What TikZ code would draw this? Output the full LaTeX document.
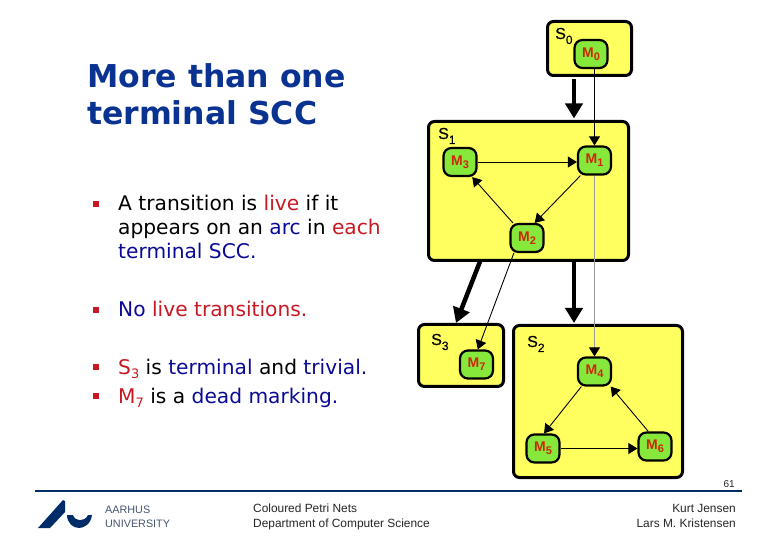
\documentclass[tikz,border=0pt]{standalone}
\usepackage{fontspec}
\setmainfont{DejaVu Sans}
\newfontfamily\lib{Liberation Sans}
\newfontfamily\libheavy[FakeBold=0.4]{Liberation Sans}
\usetikzlibrary{arrows.meta,calc}
\definecolor{boxyellow}{RGB}{255,255,95}
\definecolor{markgreen}{RGB}{135,232,60}
\definecolor{markred}{RGB}{205,40,10}
\definecolor{slideblue}{RGB}{10,10,150}
\definecolor{titleblue}{RGB}{10,50,145}
\definecolor{slidered}{RGB}{200,25,35}
\definecolor{aunavy}{RGB}{0,45,105}
\definecolor{augray}{RGB}{70,85,110}
\newcommand{\hl}[1]{\textcolor{slidered}{#1}}
\newcommand{\bl}[1]{\textcolor{slideblue}{#1}}
\newcommand{\Mk}[1]{{\lib\bfseries M\raisebox{-3pt}{\fontsize{11}{11}\selectfont #1}}}
\newcommand{\Sl}[1]{{\libheavy S\raisebox{-5pt}{\fontsize{12}{12}\selectfont #1}}}
\tikzset{
  x=1pt,y=-1pt,
  sccbox/.style={draw=black,line width=3pt,fill=boxyellow,rounded corners=6pt,inner sep=0,outer sep=0,anchor=north west},
  marking/.style={draw=black,line width=2.2pt,fill=markgreen,rounded corners=8pt,minimum width=33pt,minimum height=28pt,inner sep=0,text=markred,font=\fontsize{14}{14}\selectfont},
  sccarrow/.style={line width=4.5pt,-{Triangle[length=15pt,width=17pt]}},
  markarrow/.style={line width=.9pt,-{Triangle[length=9pt,width=11pt]}},
  grayarrow/.style={draw=black!40,line width=.9pt,-{Triangle[length=9pt,width=11pt,color=black]}},
  slabel/.style={inner sep=0,anchor=base west,font=\fontsize{16}{16}\selectfont},
  bodytext/.style={inner sep=0,anchor=base west,font=\fontsize{20.2}{20.2}\selectfont},
  titletext/.style={inner sep=0,anchor=base west,text=titleblue,font=\fontsize{31.5}{31.5}\selectfont\bfseries},
  bullet/.style={fill=slidered,minimum size=5.5pt,inner sep=0},
  foot/.style={inner sep=0,font=\fontsize{11.9}{13}\selectfont\lib,text=black!85},
  aulabel/.style={inner sep=0,anchor=base west,text=augray,font=\fontsize{10.8}{12}\selectfont\lib},
}
\begin{document}
\begin{tikzpicture}
\useasboundingbox (0,0) rectangle (780,540);
\fill[white] (0,0) rectangle (780,540);
% SCC boxes
\node[sccbox,minimum width=84pt,minimum height=54pt] (S0) at (547.5,21.5) {};
\node[sccbox,minimum width=200pt,minimum height=139pt] (S1) at (428.5,121.5) {};
\node[sccbox,minimum width=85pt,minimum height=62pt] (S3) at (418.5,324.5) {};
\node[sccbox,minimum width=169pt,minimum height=152pt] (S2) at (513.5,325.5) {};
% SCC labels
\node[slabel] (L0) at (555,39) {\Sl{0}};
\node[slabel] (L1) at (438,139) {\Sl{1}};
\node[slabel] (L3) at (431,345) {\Sl{3}};
\node[slabel] (L2) at (527,347) {\Sl{2}};
% markings
\node[marking] (M0) at (591,54) {\Mk{0}};
\node[marking] (M1) at (594.5,160.5) {\Mk{1}};
\node[marking] (M2) at (527,238) {\Mk{2}};
\node[marking] (M3) at (460,162) {\Mk{3}};
\node[marking] (M4) at (594.5,371.5) {\Mk{4}};
\node[marking] (M5) at (543,448.5) {\Mk{5}};
\node[marking] (M6) at (655,446.5) {\Mk{6}};
\node[marking] (M7) at (476.5,364.5) {\Mk{7}};
% arrows between SCCs
\draw[sccarrow] ($(S0.south west)+(26.5,3.5)$) -- ($(S1.north west)+(145.5,-3)$);
\draw[sccarrow] ($(S1.south west)+(145.5,0)$) -- ($(S2.north west)+(60.5,-2.5)$);
\draw[sccarrow] ($(S1.south west)+(51.5,1)$) -- ($(S3.north west)+(37.5,-1.5)$);
% arrows between markings
\draw[grayarrow] (M1.south) -- (M4.north);
\draw[markarrow] (M0.south -| M1.north) -- (M1.north);
\draw[markarrow] (M3.east) -- (M3.east -| M1.west);
\draw[markarrow] (M1.227) -- (M2.63);
\draw[markarrow] (M2.133) -- (M3.-51);
\draw[markarrow] (M2.-131) -- (M7.85);
\draw[markarrow] (M4.229) -- (M5.86);
\draw[markarrow] (M5.east) -- (M5.east -| M6.west);
\draw[markarrow] (M6.114) -- (M4.-43);
% title
\node[titletext] (T1) at (87,88) {More than one};
\node[titletext] (T2) at (87,125) {terminal SCC};
% body
\node[bullet] (B1) at (96,204) {};
\node[bodytext] (A1) at (118,211) {A transition is \hl{live} if it};
\node[bodytext] (A2) at (118,234.5) {appears on an \bl{arc} in \hl{each}};
\node[bodytext] (A3) at (118,258.5) {\bl{terminal SCC.}};
\node[bullet] (B2) at (96,310) {};
\node[bodytext] (A4) at (118,316.5) {\bl{No} \hl{live transitions.}};
\node[bullet] (B3) at (96,367) {};
\node[bodytext] (A5) at (118,374) {\hl{S\raisebox{-4pt}{\fontsize{13}{13}\selectfont 3}} is \bl{terminal} and \bl{trivial.}};
\node[bullet] (B4) at (96,396) {};
\node[bodytext] (A6) at (118,403) {\hl{M\raisebox{-4pt}{\fontsize{13}{13}\selectfont 7}} is a \bl{dead marking.}};
% footer
\coordinate (FL) at (35,490.5);
\coordinate (FR) at (742,490.5);
\draw[aunavy,line width=2pt] (FL) -- (FR);
\node[foot,anchor=base east,font=\fontsize{10}{12}\selectfont\lib] (P) at (735,487) {61};
\fill[aunavy] (38,528) -- (63,500) -- (65,501) -- (65,512) -- (50,528) -- cycle;
\fill[aunavy] (67,515) -- (73,515) .. controls (75,522) and (85,522) .. (88,515) -- (92,515) .. controls (91,524) and (84,528) .. (79,528) .. controls (73,528) and (67,523) .. (67,515) -- cycle;
\node[aulabel] (AU1) at (105,513) {AARHUS};
\node[aulabel] (AU2) at (105,527) {UNIVERSITY};
\node[foot,anchor=base west] (C1) at (253,512) {Coloured Petri Nets};
\node[foot,anchor=base west] (C2) at (253,527) {Department of Computer Science};
\node[foot,anchor=base east] (K1) at (736,512) {Kurt Jensen};
\node[foot,anchor=base east] (K2) at (736,527) {Lars M. Kristensen};
\end{tikzpicture}
\end{document}
